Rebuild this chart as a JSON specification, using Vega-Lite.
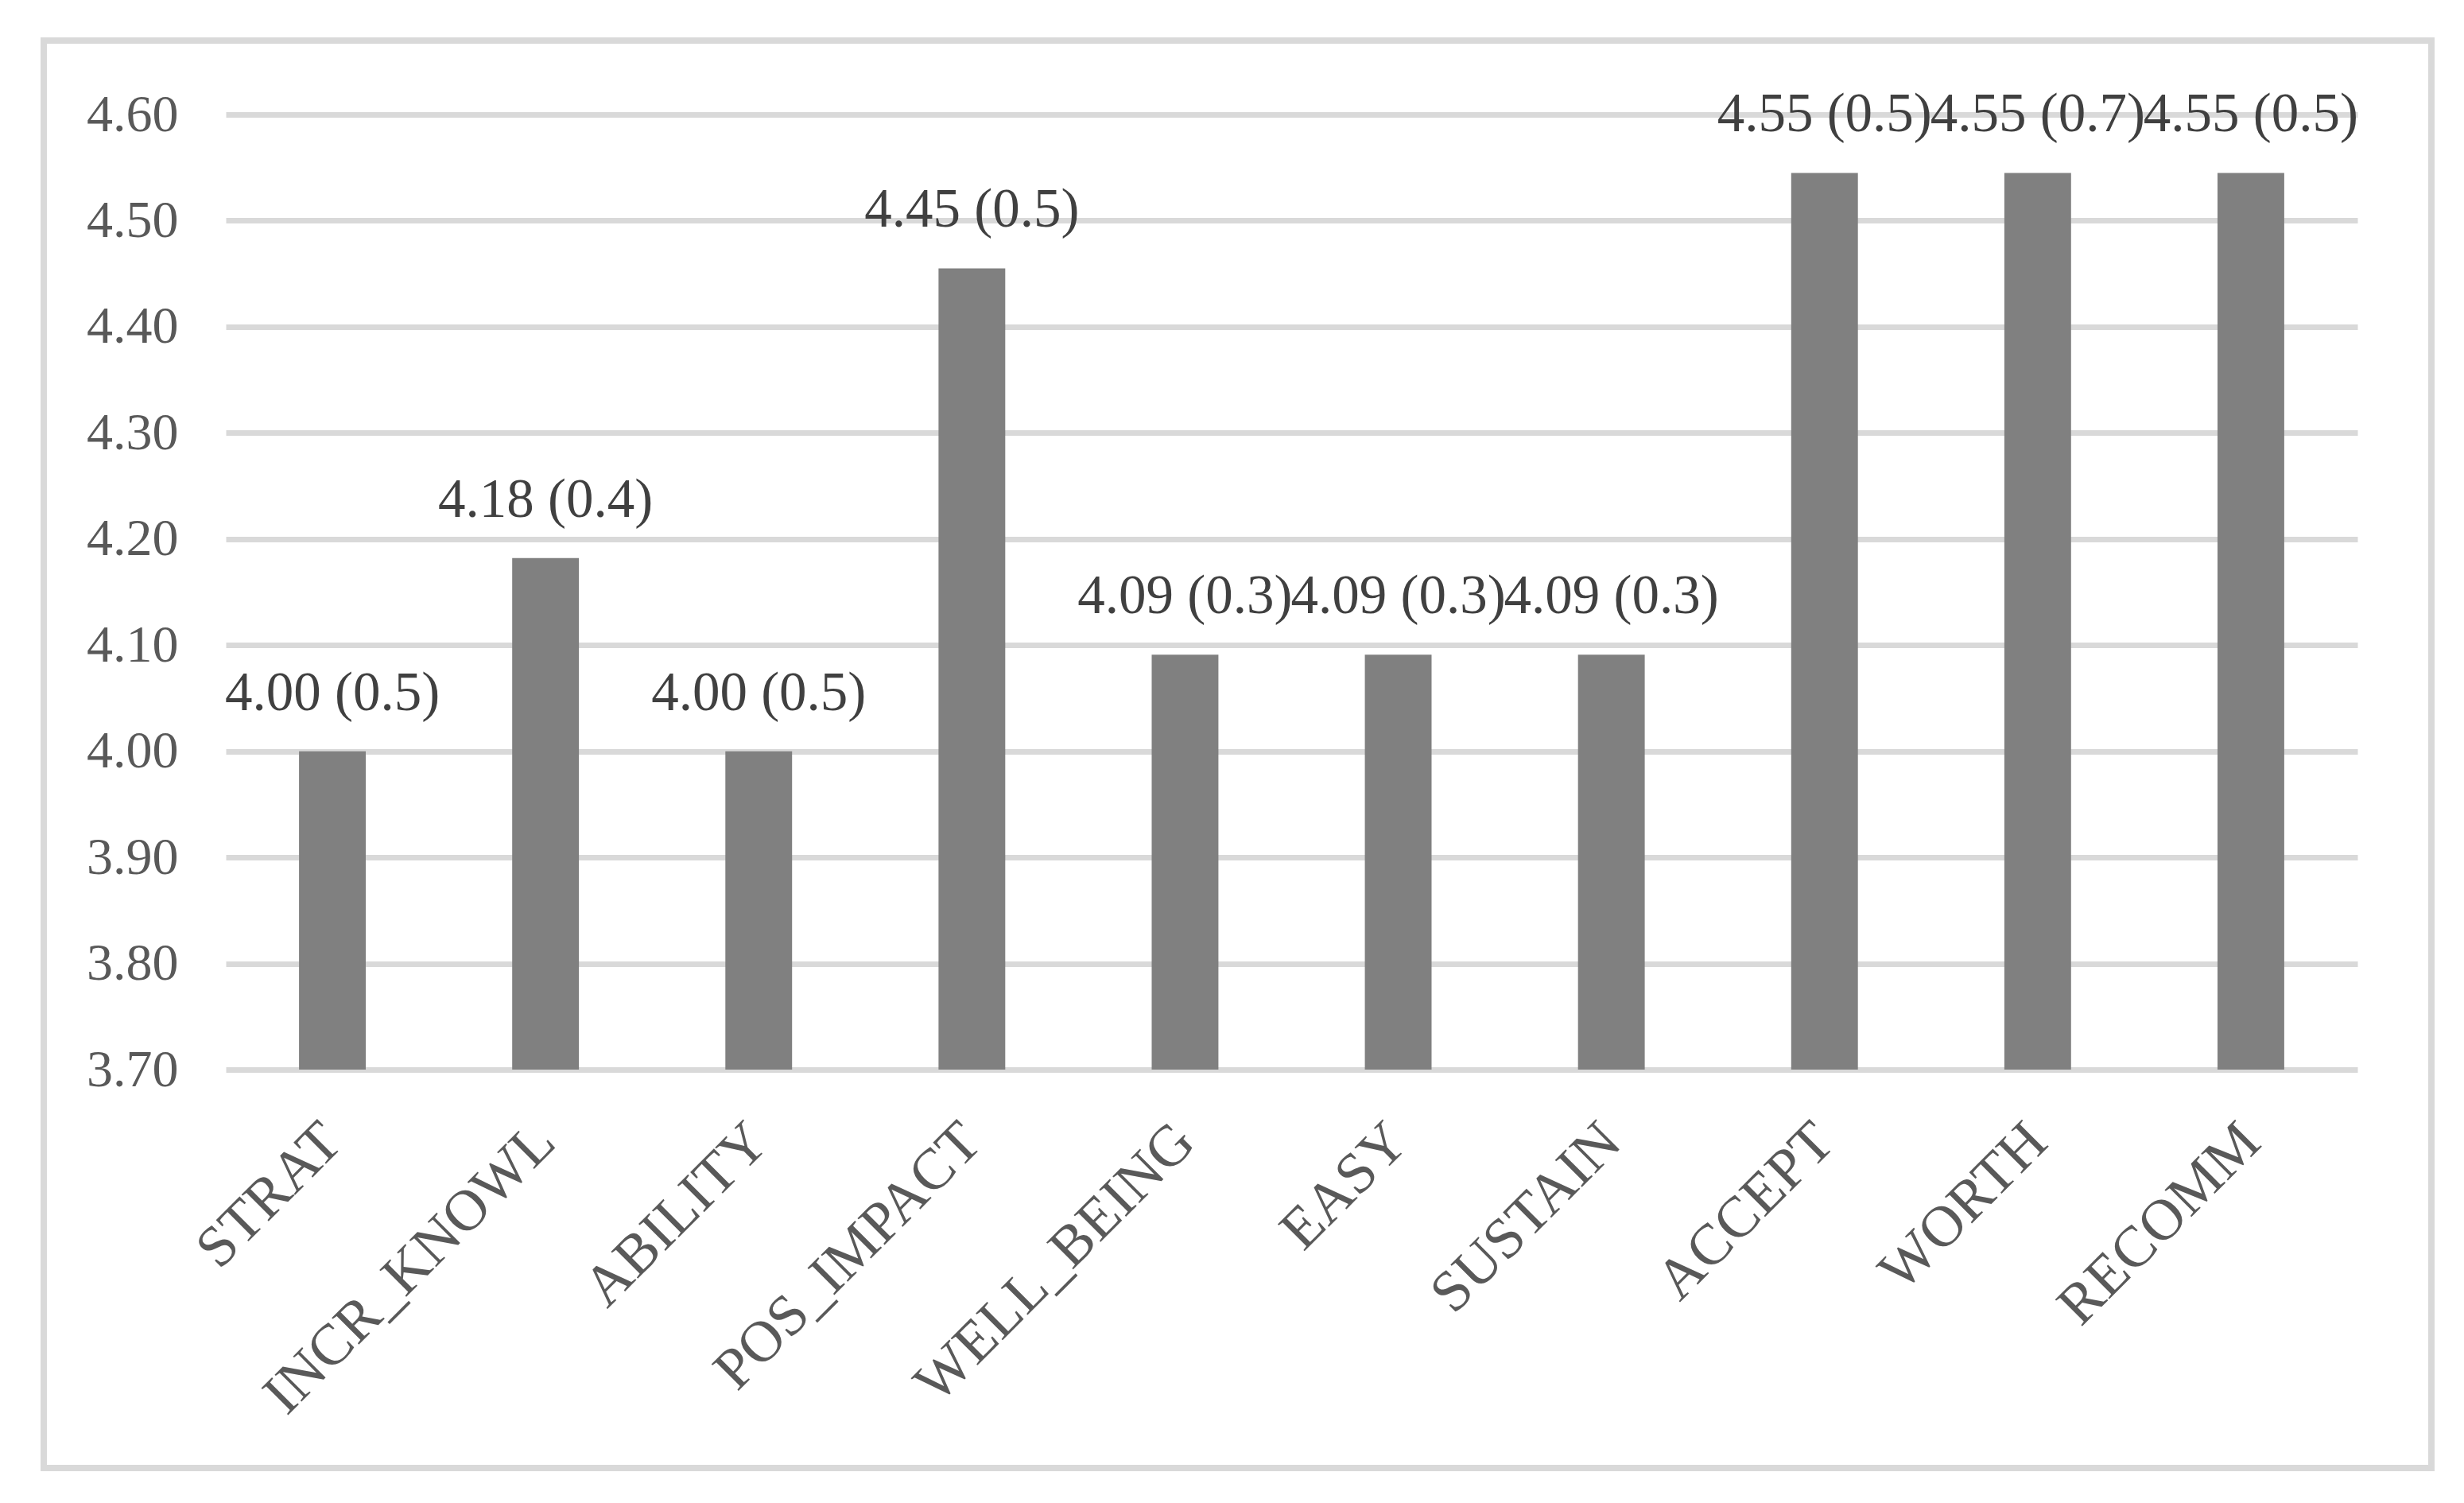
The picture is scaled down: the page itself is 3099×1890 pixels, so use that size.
{
  "$schema": "https://vega.github.io/schema/vega-lite/v6.json",
  "width": 3003,
  "height": 1795,
  "autosize": {"type": "none"},
  "padding": {"left": 55, "top": 51, "right": 41, "bottom": 44},
  "background": "white",
  "config": {
    "view": {"stroke": "#d9d9d9", "strokeWidth": 8},
    "font": "Liberation Serif"
  },
  "data": {
    "values": [
      {"item": "STRAT", "mean": 4.0, "label": "4.00 (0.5)"},
      {"item": "INCR_KNOWL", "mean": 4.182, "label": "4.18 (0.4)"},
      {"item": "ABILITY", "mean": 4.0, "label": "4.00 (0.5)"},
      {"item": "POS_IMPACT", "mean": 4.455, "label": "4.45 (0.5)"},
      {"item": "WELL_BEING", "mean": 4.091, "label": "4.09 (0.3)"},
      {"item": "EASY", "mean": 4.091, "label": "4.09 (0.3)"},
      {"item": "SUSTAIN", "mean": 4.091, "label": "4.09 (0.3)"},
      {"item": "ACCEPT", "mean": 4.545, "label": "4.55 (0.5)"},
      {"item": "WORTH", "mean": 4.545, "label": "4.55 (0.7)"},
      {"item": "RECOMM", "mean": 4.545, "label": "4.55 (0.5)"}
    ]
  },
  "encoding": {
    "x": {
      "field": "item",
      "type": "nominal",
      "sort": null,
      "scale": {"range": [229, 2910], "paddingInner": 0.687, "paddingOuter": 0.3435},
      "axis": {
        "title": null,
        "labelAngle": -45,
        "labelAlign": "right",
        "labelBaseline": "middle",
        "domain": false,
        "ticks": false,
        "tickSize": 0,
        "labelPadding": -422,
        "labelFontSize": 73,
        "labelFont": "Liberation Serif",
        "labelColor": "#595959",
        "labelLimit": 0,
        "labelOverlap": false,
        "labelBound": false,
        "grid": false
      }
    }
  },
  "layer": [
    {
      "mark": {"type": "bar", "color": "#808080"},
      "encoding": {
        "y": {
          "field": "mean",
          "type": "quantitative",
          "scale": {"domain": [3.7, 4.6], "range": [1294, 93], "nice": false, "zero": false},
          "axis": {
            "title": null,
            "values": [3.7, 3.8, 3.9, 4.0, 4.1, 4.2, 4.3, 4.4, 4.5, 4.6],
            "format": ".2f",
            "domain": false,
            "ticks": false,
            "tickSize": 0,
            "labelPadding": -169,
            "labelFontSize": 66,
            "labelFont": "Liberation Serif",
            "labelColor": "#595959",
            "labelBound": false,
            "labelOverlap": false,
            "grid": true,
            "gridColor": "#d9d9d9",
            "gridWidth": 7
          }
        },
        "y2": {"datum": 3.7}
      }
    },
    {
      "mark": {
        "type": "text",
        "baseline": "alphabetic",
        "align": "center",
        "dy": -52,
        "fontSize": 69,
        "font": "Liberation Serif",
        "color": "#404040"
      },
      "encoding": {
        "y": {"field": "mean", "type": "quantitative"},
        "text": {"field": "label"}
      }
    }
  ]
}
